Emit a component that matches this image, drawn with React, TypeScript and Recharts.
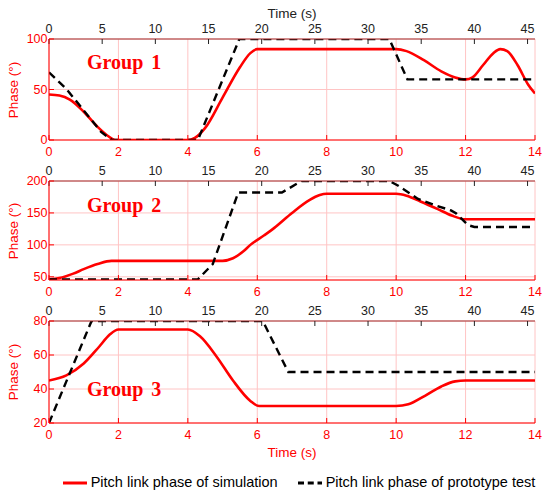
import React from 'react';
import { LineChart, Line, XAxis, YAxis, CartesianGrid, Legend } from 'recharts';

// Bottom axis: simulation time (s); top axis: prototype test time (s)
const BOTTOM_TICKS = [0, 2, 4, 6, 8, 10, 12, 14];
const TOP_TICKS = [0, 5, 10, 15, 20, 25, 30, 35, 40, 45];
const TOP_MAX = 45.7;

// Group 1
const g1Sim = [
  [0, 45], [0.3, 44], [0.6, 40], [1.0, 28], [1.4, 13], [1.7, 4], [1.9, 0], [4.0, 0], [4.2, 2], [4.5, 12],
  [5.0, 42], [5.5, 72], [5.8, 86], [6.0, 90], [10, 90], [10.3, 88], [10.8, 79], [11.3, 68], [11.7, 62],
  [12, 60], [12.2, 62], [12.5, 74], [12.8, 86], [13.0, 90], [13.2, 88], [13.5, 74], [13.8, 55], [14, 46],
];
const g1Test = [
  [0, 67], [1.6, 51], [4.9, 8], [5.9, 0], [14, 0], [17.9, 100], [32, 100], [33.7, 60], [45.7, 60],
];
const g1YTicks = [0, 50, 100];
const g1RTicks = [26.7, 53.5, 80.2];

// Group 2
const g2Sim = [
  [0, 46], [0.3, 48], [0.7, 55], [1.0, 62], [1.4, 70], [1.8, 75], [2.0, 75], [5.0, 75], [5.3, 79], [5.6, 90],
  [5.8, 100], [6.2, 115], [6.5, 127], [7.0, 150], [7.5, 170], [7.8, 178], [8.0, 180], [10, 180], [10.3, 177],
  [10.7, 168], [11.2, 156], [11.6, 146], [12, 140], [14, 140],
];
const g2Test = [
  [0, 46], [14, 46], [15.4, 70], [17.8, 182], [21.9, 182], [23.75, 200], [32, 200], [32.8, 193], [34.7, 172],
  [36.3, 162], [37.8, 154], [38.3, 149], [39.4, 131], [40, 128], [45.7, 128],
];
const g2YTicks = [50, 100, 150, 200];
const g2RTicks = [18, 51, 84];

// Group 3
const g3Sim = [
  [0, 45], [0.5, 48], [1.0, 55], [1.45, 65], [1.75, 72], [2.0, 75], [4.0, 75], [4.35, 71], [4.83, 59],
  [5.3, 45], [5.8, 33], [6.05, 30], [10, 30], [10.35, 31], [10.83, 36], [11.3, 41.5], [11.7, 44.5], [12, 45], [14, 45],
];
const g3Test = [[0, 20], [4, 80], [20.1, 80], [22.5, 50], [45.7, 50]];
const g3YTicks = [20, 40, 60, 80];
const g3RTicks = [16.7, 50, 83.3];

const SIM_NAME = 'Pitch link phase of simulation';
const TEST_NAME = 'Pitch link phase of prototype test';
const LEGEND_ORDER = [SIM_NAME, TEST_NAME];

const toRows = (arr: number[][]) => arr.map(([x, v]) => ({ x, v }));

const SANS = '"Liberation Sans", Arial, sans-serif';
const SERIF = '"Liberation Serif", "Times New Roman", serif';
const RED = '#ff0000';
const FRAME = '#a03030';
const GRID = '#ffc4c4';
const TICK_FS = 12.5;

type PanelProps = {
  top: number;
  height: number;
  mt: number;
  mb: number;
  sim: number[][];
  test: number[][];
  yDomain: [number, number];
  yTicks: number[];
  rTicks: number[];
  legend?: boolean;
};

function Panel({ top, height, mt, mb, sim, test, yDomain, yTicks, rTicks, legend }: PanelProps) {
  return (
    <div style={{ position: 'absolute', left: 0, top, width: 550, height }}>
      <LineChart width={550} height={height} margin={{ top: mt, right: 15, bottom: mb, left: 0 }}>
        <CartesianGrid xAxisId="b" yAxisId="l" stroke={GRID} strokeWidth={1} />
        <XAxis
          xAxisId="b"
          type="number"
          dataKey="x"
          domain={[0, 14]}
          ticks={BOTTOM_TICKS}
          orientation="bottom"
          height={20}
          tickSize={-5}
          tickMargin={12}
          axisLine={{ stroke: RED, strokeWidth: 1 }}
          tickLine={{ stroke: RED }}
          tick={{ fill: RED, fontSize: TICK_FS, fontFamily: SANS }}
          allowDataOverflow
          interval={0}
        />
        <XAxis
          xAxisId="t"
          type="number"
          dataKey="x"
          domain={[0, TOP_MAX]}
          ticks={TOP_TICKS}
          orientation="top"
          height={30}
          tickSize={-5}
          tickMargin={11}
          axisLine={{ stroke: FRAME, strokeWidth: 1 }}
          tickLine={{ stroke: '#222' }}
          tick={{ fill: '#222', fontSize: TICK_FS, fontFamily: SANS }}
          allowDataOverflow
          interval={0}
        />
        <YAxis
          yAxisId="l"
          type="number"
          domain={yDomain}
          ticks={yTicks}
          width={49}
          tickSize={-5}
          tickMargin={6.5}
          axisLine={{ stroke: RED, strokeWidth: 1 }}
          tickLine={{ stroke: RED }}
          tick={{ fill: RED, fontSize: TICK_FS, fontFamily: SANS }}
          allowDataOverflow
          interval={0}
        />
        <YAxis
          yAxisId="r"
          orientation="right"
          mirror
          type="number"
          domain={[0, 100]}
          ticks={rTicks}
          width={0}
          tickSize={5}
          tick={false}
          axisLine={{ stroke: FRAME, strokeWidth: 1 }}
          tickLine={{ stroke: FRAME }}
          allowDataOverflow
          interval={0}
        />
        <Line
          xAxisId="b"
          yAxisId="l"
          data={toRows(sim)}
          dataKey="v"
          name={SIM_NAME}
          type="monotone"
          stroke={RED}
          strokeWidth={2.6}
          dot={false}
          activeDot={false}
          isAnimationActive={false}
          legendType="plainline"
        />
        <Line
          xAxisId="t"
          yAxisId="l"
          data={toRows(test)}
          dataKey="v"
          name={TEST_NAME}
          type="linear"
          stroke="#000"
          strokeWidth={2.4}
          strokeDasharray="8 5"
          dot={false}
          activeDot={false}
          isAnimationActive={false}
          legendType="plainline"
        />
        {legend && (
          <Legend
            layout="horizontal"
            verticalAlign="middle"
            align="center"
            iconSize={24}
            itemSorter={(item: any) => LEGEND_ORDER.indexOf(item.value)}
            wrapperStyle={{ left: 0, top: 171, width: 618 }}
            formatter={(value: string) => (
              <span style={{ color: '#000', fontSize: 14.5, fontFamily: SANS, marginRight: 10 }}>{value}</span>
            )}
          />
        )}
      </LineChart>
    </div>
  );
}

const groupLabels = [
  { text: 'Group 1', y: 69 },
  { text: 'Group 2', y: 212 },
  { text: 'Group 3', y: 396 },
];
const phaseLabelCenters = [90, 231, 372];

export default function App() {
  return (
    <div style={{ position: 'absolute', left: 0, top: 0, width: 550, height: 500, background: '#fff' }}>
      <Panel top={0} height={160} mt={9} mb={0} sim={g1Sim} test={g1Test} yDomain={[0, 100]} yTicks={g1YTicks} rTicks={g1RTicks} />
      <Panel top={150} height={150} mt={1} mb={0} sim={g2Sim} test={g2Test} yDomain={[45, 200]} yTicks={g2YTicks} rTicks={g2RTicks} />
      <Panel top={300} height={200} mt={-9} mb={57} sim={g3Sim} test={g3Test} yDomain={[20, 80]} yTicks={g3YTicks} rTicks={g3RTicks} legend />
      <svg width={550} height={500} style={{ position: 'absolute', left: 0, top: 0, pointerEvents: 'none' }}>
        {groupLabels.map((g) => (
          <text key={g.text} x={87} y={g.y} fill={RED} fontFamily={SERIF} fontWeight="bold" fontSize={20} wordSpacing={3}>
            {g.text}
          </text>
        ))}
        {phaseLabelCenters.map((c, i) => (
          <text key={i} x={13} y={c} fill={RED} fontFamily={SANS} fontSize={13.5} textAnchor="middle" dominantBaseline="central" transform={`rotate(-90 13 ${c})`}>
            Phase (°)
          </text>
        ))}
        <text x={292} y={18} fill="#222" fontFamily={SANS} fontSize={13.5} textAnchor="middle">Time (s)</text>
        <text x={292} y={457} fill={RED} fontFamily={SANS} fontSize={13.5} textAnchor="middle">Time (s)</text>
      </svg>
    </div>
  );
}
